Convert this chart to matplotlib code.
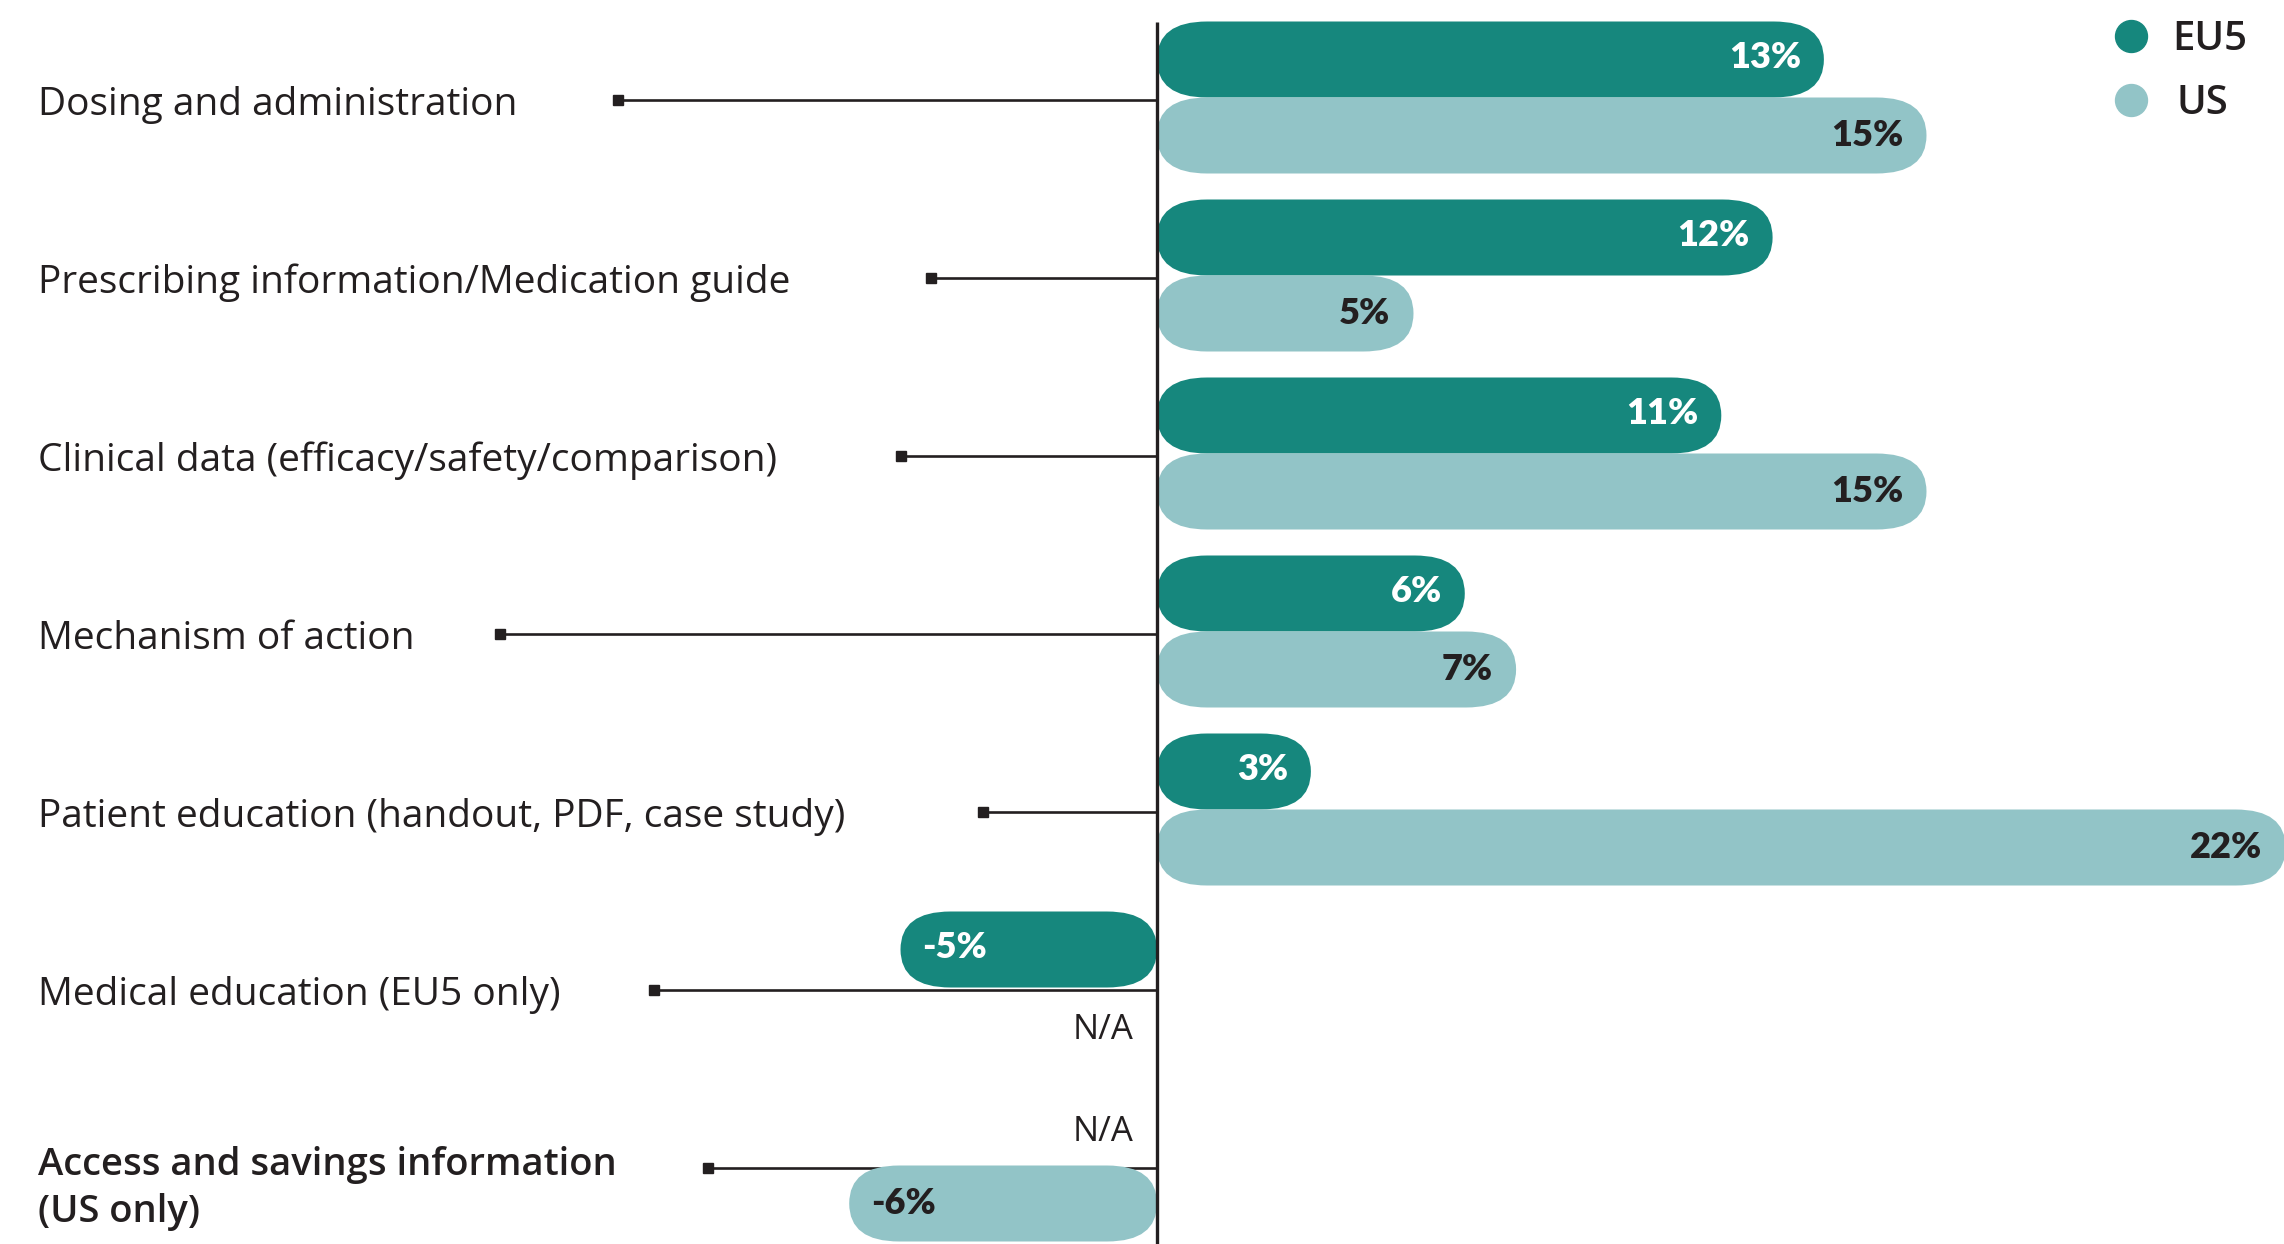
import matplotlib
matplotlib.use("Agg")
import matplotlib.pyplot as plt
from matplotlib.patches import FancyBboxPatch

# ---- data ----
categories = [
    "Dosing and administration",
    "Prescribing information/Medication guide",
    "Clinical data (efficacy/safety/comparison)",
    "Mechanism of action",
    "Patient education (handout, PDF, case study)",
    "Medical education (EU5 only)",
    "Access and savings information\n(US only)",
]
eu5_values = [13, 12, 11, 6, 3, -5, None]
us_values = [15, 5, 15, 7, 22, None, -6]
series_names = ["EU5", "US"]
bold_categories = ["Access and savings information\n(US only)"]

# ---- style ----
EU5_COLOR = "#16877d"
US_COLOR = "#92c4c7"
INK = "#231f20"
LABEL_FONT = ["Open Sans", "DejaVu Sans"]
VALUE_FONT = ["Lato", "DejaVu Sans"]

W, H, DPI = 2284, 1244, 100
PX_PER_X = 51.3      # pixels per percentage point
PX_PER_Y = 178.0     # pixels per category row
ZERO_PX = 1157       # horizontal pixel of the zero line
FIRST_ROW_PX = 97.5  # vertical pixel of the first row
BAR_H = 76 / PX_PER_Y
CAP_X = 50 / PX_PER_X
TEXT_DY = 7 / PX_PER_Y    # nudges Open Sans text onto its row
LEADER_DY = 2 / PX_PER_Y

# where each leader line starts (x, in percentage units)
leader_start = [-10.5, -4.4, -5.0, -12.8, -3.4, -9.8, -8.75]

fig = plt.figure(figsize=(W / DPI, H / DPI), dpi=DPI)
ax = fig.add_axes([0, 0, 1, 1])
ax.set_xlim(-ZERO_PX / PX_PER_X, (W - ZERO_PX) / PX_PER_X)
ax.set_ylim((H - FIRST_ROW_PX) / PX_PER_Y, -FIRST_ROW_PX / PX_PER_Y)
ax.axis("off")


def pill(y_top, value, color):
    left = min(0, value)
    width = abs(value)
    aspect = (BAR_H / 2) / CAP_X
    patch = FancyBboxPatch(
        (left, y_top), width, BAR_H,
        boxstyle=f"round,pad=0,rounding_size={CAP_X}",
        mutation_aspect=aspect,
        facecolor=color, edgecolor="none", zorder=2,
    )
    ax.add_patch(patch)


def value_label(y_center, value, color):
    if value >= 0:
        x, ha = value - 0.45, "right"
    else:
        x, ha = value + 0.42, "left"
    ax.text(x, y_center, f"{value}%", ha=ha, va="center", color=color,
            fontsize=26, fontweight="heavy", family=VALUE_FONT, zorder=3)


def na_label(y_center):
    ax.text(-0.45, y_center + TEXT_DY * 0.7, "N/A", ha="right", va="center",
            color=INK, fontsize=25, family=LABEL_FONT)


for i, (cat, e, u) in enumerate(zip(categories, eu5_values, us_values)):
    # bars: EU5 above the row line, US below
    if e is not None:
        pill(i - BAR_H, e, EU5_COLOR)
        value_label(i - BAR_H / 2 - 0.01, e, "white")
    else:
        na_label(i - BAR_H / 2)
    if u is not None:
        pill(i, u, US_COLOR)
        value_label(i + BAR_H / 2, u, INK)
    else:
        na_label(i + BAR_H / 2)

    # leader line from label to the zero line
    yl = i + LEADER_DY
    ax.plot([leader_start[i], 0], [yl, yl], color=INK, lw=1.9, zorder=1,
            solid_capstyle="butt")
    ax.plot([leader_start[i]], [yl], marker="s", ms=7, color=INK, zorder=1)

    # category label
    is_bold = cat in bold_categories
    ax.text(-ZERO_PX / PX_PER_X + 38 / PX_PER_X,
            i + TEXT_DY + (0.09 if is_bold else 0), cat,
            ha="left", va="center", color=INK,
            fontsize=27.5 if is_bold else 28,
            fontweight="semibold" if is_bold else "normal", family=LABEL_FONT,
            linespacing=1.33)

# zero line
ax.plot([0, 0], [-FIRST_ROW_PX / PX_PER_Y + 22 / PX_PER_Y, (H - FIRST_ROW_PX) / PX_PER_Y],
        color=INK, lw=2.4, zorder=4, solid_capstyle="butt")

# legend
for k, (name, color) in enumerate(zip(series_names, [EU5_COLOR, US_COLOR])):
    y = 1 - (36 + 64 * k) / H
    fig.lines.append(plt.Line2D([2131 / W], [y], marker="o", ms=23, color=color,
                                transform=fig.transFigure))
    fig.text((2172 + 5 * k) / W, y - 4 / H, name, ha="left", va="center", color=INK,
             fontsize=29, fontweight="semibold", family=LABEL_FONT)

fig.savefig("out.png", dpi=DPI)
